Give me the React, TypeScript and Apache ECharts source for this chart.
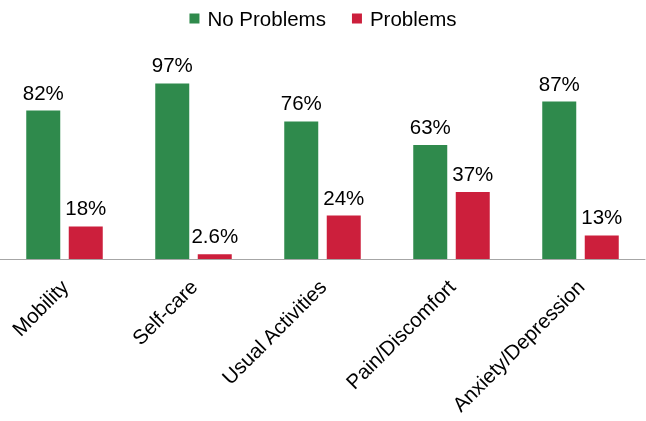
import React, { useEffect, useRef } from "react";
import * as echarts from "echarts";

const categories = ["Mobility", "Self-care", "Usual Activities", "Pain/Discomfort", "Anxiety/Depression"];
const noProblems = [82, 97, 76, 63, 87];
const problems = [18, 2.6, 24, 37, 13];
const noProblemsLabels = ["82%", "97%", "76%", "63%", "87%"];
const problemsLabels = ["18%", "2.6%", "24%", "37%", "13%"];

const FONT = "'Liberation Sans', Arial, sans-serif";

export default function App() {
  const ref = useRef<HTMLDivElement>(null);
  useEffect(() => {
    if (!ref.current) return;
    const chart = echarts.init(ref.current, undefined, { renderer: "svg" });
    chart.setOption({
      animation: false,
      textStyle: { fontFamily: FONT },
      legend: {
        top: 3,
        left: "center",
        itemWidth: 10,
        itemHeight: 10,
        itemGap: 26,
        icon: "rect",
        textStyle: { fontFamily: FONT, fontSize: 20.5, color: "#000", padding: [0, 0, 0, 3] },
        data: ["No Problems", "Problems"],
      },
      grid: { left: 0, right: 1, top: 78, bottom: 162, containLabel: false },
      xAxis: {
        type: "category",
        data: categories,
        axisLine: { show: true, lineStyle: { color: "#a6a6a6", width: 1 } },
        axisTick: { show: false },
        axisLabel: {
          rotate: 45,
          interval: 0,
          margin: 24,
          fontSize: 20.5,
          fontFamily: FONT,
          color: "#000",
        },
      },
      yAxis: {
        type: "value",
        min: 0,
        max: 100,
        show: false,
        splitLine: { show: false },
      },
      series: [
        {
          name: "No Problems",
          type: "bar",
          data: noProblems,
          barWidth: 34,
          barGap: "25%",
          itemStyle: { color: "#2f8a4c" },
          label: {
            show: true,
            position: "top",
            distance: 8,
            fontSize: 20.5,
            fontFamily: FONT,
            color: "#000",
            formatter: (p: any) => noProblemsLabels[p.dataIndex],
          },
        },
        {
          name: "Problems",
          type: "bar",
          data: problems,
          barWidth: 34,
          itemStyle: { color: "#cc1f3c" },
          label: {
            show: true,
            position: "top",
            distance: 8,
            fontSize: 20.5,
            fontFamily: FONT,
            color: "#000",
            formatter: (p: any) => problemsLabels[p.dataIndex],
          },
        },
      ],
    });
    return () => chart.dispose();
  }, []);
  return <div ref={ref} style={{ width: 646, height: 421, position: "fixed", left: 0, top: 0 }} />;
}
